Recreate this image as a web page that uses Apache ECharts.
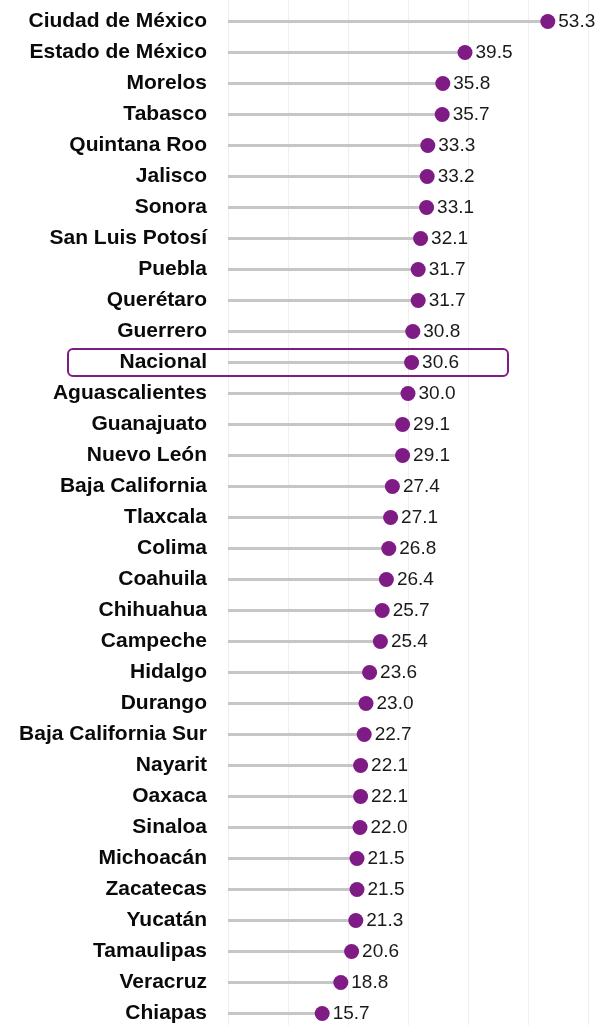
<!DOCTYPE html>
<html>
<head>
<meta charset="utf-8">
<script src="https://cdn.jsdelivr.net/npm/echarts@6/dist/echarts.min.js"></script>
<style>
  html, body { margin: 0; padding: 0; background: #fff; }
  #main { width: 600px; height: 1025px; }
</style>
</head>
<body>
<div id="main"></div>
<script>
// estados, de arriba hacia abajo
var estados = ['Ciudad de México', 'Estado de México', 'Morelos', 'Tabasco', 'Quintana Roo',
    'Jalisco', 'Sonora', 'San Luis Potosí', 'Puebla', 'Querétaro', 'Guerrero', 'Nacional',
    'Aguascalientes', 'Guanajuato', 'Nuevo León', 'Baja California', 'Tlaxcala', 'Colima',
    'Coahuila', 'Chihuahua', 'Campeche', 'Hidalgo', 'Durango', 'Baja California Sur',
    'Nayarit', 'Oaxaca', 'Sinaloa', 'Michoacán', 'Zacatecas', 'Yucatán', 'Tamaulipas',
    'Veracruz', 'Chiapas'];
var valores = [53.3, 39.5, 35.8, 35.7, 33.3, 33.2, 33.1, 32.1, 31.7, 31.7, 30.8, 30.6,
    30.0, 29.1, 29.1, 27.4, 27.1, 26.8, 26.4, 25.7, 25.4, 23.6, 23.0, 22.7,
    22.1, 22.1, 22.0, 21.5, 21.5, 21.3, 20.6, 18.8, 15.7];
var resaltado = 'Nacional';

var myChart = echarts.init(document.getElementById('main'));
var option = {
    animation: false,
    grid: [
        {left: 228, right: 12, top: 21.5, bottom: 11.5},
        // solo para las lineas verticales de fondo (alto completo)
        {left: 228, right: 12, top: 0, bottom: 0}
    ],
    xAxis: [
        {
            type: 'value',
            min: 0,
            max: 60,
            interval: 10,
            axisLabel: {show: false},
            axisLine: {show: false},
            axisTick: {show: false},
            splitLine: {show: false}
        },
        {
            gridIndex: 1,
            type: 'value',
            min: 0,
            max: 60,
            interval: 10,
            axisLabel: {show: false},
            axisLine: {show: false},
            axisTick: {show: false},
            splitLine: {lineStyle: {color: '#efefef', width: 1}}
        }
    ],
    yAxis: [
        {
            type: 'category',
            inverse: true,
            boundaryGap: false,
            data: estados,
            axisLine: {show: false},
            axisTick: {show: false},
            splitLine: {show: false},
            axisLabel: {
                margin: 21,
                fontFamily: 'Liberation Sans, Arial, sans-serif',
                fontWeight: 'bold',
                fontSize: 21,
                color: '#0a0a0a'
            }
        },
        {
            gridIndex: 1,
            type: 'value',
            show: false
        }
    ],
    series: [
        {
            // palito
            type: 'bar',
            data: valores,
            barWidth: 3,
            itemStyle: {color: '#c6c6c6'},
            silent: true
        },
        {
            type: 'scatter',
            data: valores,
            symbolSize: 15,
            itemStyle: {color: '#7f1b85', opacity: 1},
            label: {
                show: true,
                position: 'right',
                distance: 3,
                fontFamily: 'Liberation Sans, Arial, sans-serif',
                fontSize: 19,
                color: '#1a1a1a',
                formatter: function (p) {
                    return p.value.toFixed(1);
                }
            }
        }
    ]
};
myChart.setOption(option);

// recuadro del dato nacional
var yCentro = myChart.convertToPixel({yAxisIndex: 0}, resaltado);
myChart.setOption({
    graphic: [{
        type: 'rect',
        shape: {x: 68, y: yCentro - 13.5, width: 440, height: 27, r: 5},
        style: {fill: 'none', stroke: '#7f1b85', lineWidth: 2},
        z: 10
    }]
});
</script>
</body>
</html>
